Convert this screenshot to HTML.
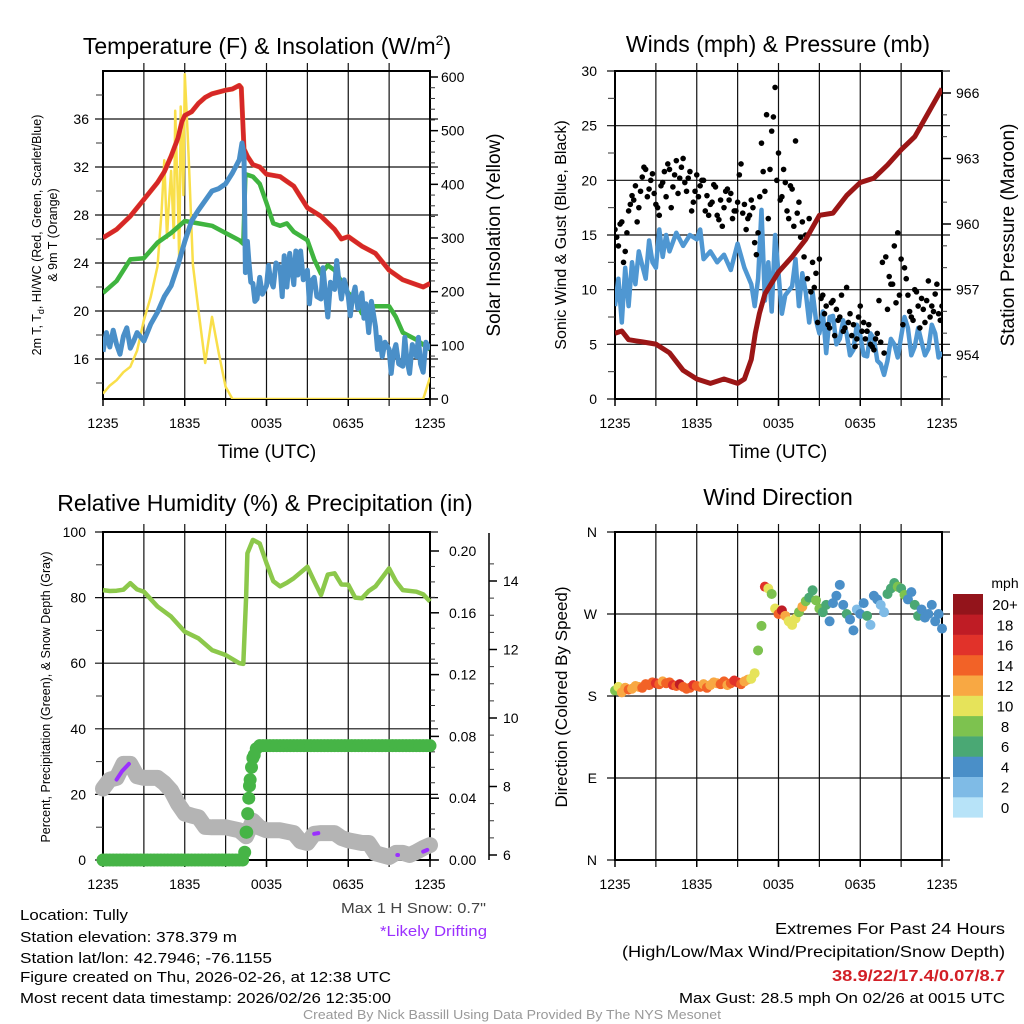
<!DOCTYPE html>
<html><head><meta charset="utf-8"><style>
html,body{margin:0;padding:0;background:#fff}
svg{display:block;font-family:"Liberation Sans",sans-serif}
</style></head><body>
<svg id="fig" width="1024" height="1024" viewBox="0 0 1024 1024" xmlns="http://www.w3.org/2000/svg">
<rect width="1024" height="1024" fill="#fff"/>
<g id="layer"></g>
<!-- titles -->
<text x="267" y="54" font-size="23" text-anchor="middle">Temperature (F) &amp; Insolation (W/m<tspan font-size="14" dy="-9">2</tspan><tspan dy="9">)</tspan></text>
<text x="778" y="52" font-size="23" text-anchor="middle">Winds (mph) &amp; Pressure (mb)</text>
<text x="265" y="511" font-size="23" text-anchor="middle">Relative Humidity (%) &amp; Precipitation (in)</text>
<text x="778" y="505" font-size="23" text-anchor="middle">Wind Direction</text>
<text x="267" y="458" font-size="19" text-anchor="middle">Time (UTC)</text>
<text x="778" y="458" font-size="19" text-anchor="middle">Time (UTC)</text>
<text transform="translate(41,235) rotate(-90)" font-size="12.5" text-anchor="middle">2m T, T<tspan font-size="9" dy="3">d</tspan><tspan dy="-3">, HI/WC (Red, Green, Scarlet/Blue)</tspan></text>
<text transform="translate(57,235) rotate(-90)" font-size="12.5" text-anchor="middle">&amp; 9m T (Orange)</text>
<text transform="translate(500,235) rotate(-90)" font-size="19" text-anchor="middle">Solar Insolation (Yellow)</text>
<text transform="translate(566,235) rotate(-90)" font-size="16" text-anchor="middle">Sonic Wind &amp; Gust (Blue, Black)</text>
<text transform="translate(1014,235) rotate(-90)" font-size="19" text-anchor="middle">Station Pressure (Maroon)</text>
<text transform="translate(50,697) rotate(-90)" font-size="12.5" text-anchor="middle">Percent, Precipitation (Green), &amp; Snow Depth (Gray)</text>
<text transform="translate(567,697) rotate(-90)" font-size="17" text-anchor="middle">Direction (Colored By Speed)</text>
<!-- footer -->
<g font-size="14.5" fill="#000">
<text x="20" y="920" textLength="108" lengthAdjust="spacingAndGlyphs">Location: Tully</text>
<text x="20" y="942" textLength="217" lengthAdjust="spacingAndGlyphs">Station elevation: 378.379 m</text>
<text x="20" y="963" textLength="252" lengthAdjust="spacingAndGlyphs">Station lat/lon: 42.7946; -76.1155</text>
<text x="20" y="982" textLength="371" lengthAdjust="spacingAndGlyphs">Figure created on Thu, 2026-02-26, at 12:38 UTC</text>
<text x="20" y="1003" textLength="371" lengthAdjust="spacingAndGlyphs">Most recent data timestamp: 2026/02/26 12:35:00</text>
<text x="341" y="913" fill="#444" textLength="145" lengthAdjust="spacingAndGlyphs">Max 1 H Snow: 0.7"</text>
<text x="380" y="936" fill="#9b30ff" textLength="107" lengthAdjust="spacingAndGlyphs">*Likely Drifting</text>
<text x="775" y="934" font-size="16" textLength="230" lengthAdjust="spacingAndGlyphs">Extremes For Past 24 Hours</text>
<text x="622" y="957" font-size="16" textLength="383" lengthAdjust="spacingAndGlyphs">(High/Low/Max Wind/Precipitation/Snow Depth)</text>
<text x="832" y="981" font-weight="bold" fill="#d21f26" font-size="16" textLength="173" lengthAdjust="spacingAndGlyphs">38.9/22/17.4/0.07/8.7</text>
<text x="679" y="1003" textLength="326" lengthAdjust="spacingAndGlyphs">Max Gust: 28.5 mph On 02/26 at 0015 UTC</text>
<text x="512" y="1019" text-anchor="middle" fill="#999" font-size="12.5" textLength="418" lengthAdjust="spacingAndGlyphs">Created By Nick Bassill Using Data Provided By The NYS Mesonet</text>
</g>
</svg>
<script>
// ---------- data ----------
const xTickLabels = ["1235","1835","0035","0635","1235"];
const tempTicks = [16,20,24,28,32,36];
const solarTicks = [0,100,200,300,400,500,600];
const windTicks = [0,5,10,15,20,25,30];
const presTicks = [954,957,960,963,966];
const rhTicks = [0,20,40,60,80,100];
const precipTicks = [0.00,0.04,0.08,0.12,0.16,0.20];
const snowTicks = [6,8,10,12,14];
const dirTicks = ["N","E","S","W","N"];
const speedBins = ["0","2","4","6","8","10","12","14","16","18","20+"];

const redHours = [0,1,2,3,4,4.5,5,5.5,5.8,6,6.5,7,7.5,8,9,9.5,10,10.15,10.35,10.6,11,11.5,12,13,13.5,14,14.5,15,16,17,17.5,18,19,20,20.5,21,22,23,23.5,24];
const redTemp = [26.1,26.8,27.9,29.3,30.7,31.6,32.9,34.4,35.8,36.3,36.6,37.3,37.8,38.1,38.4,38.5,38.8,38.6,33.5,32.9,32.2,32.0,31.4,31.2,30.8,30.4,29.5,28.6,27.9,26.8,26.0,26.2,25.4,24.8,24.1,23.4,22.6,22.2,22.0,22.3];
const greenHours = [0,1,2,3,4,5,6,7,8,9,10,10.3,10.45,11,11.5,12,12.5,13,13.5,14,15,15.5,16,16.5,17,18,18.5,19,19.5,20,21,21.5,22,23,24];
const greenTemp = [21.5,22.5,24.3,24.4,25.7,26.5,27.5,27.3,27.1,26.5,25.9,25.6,31.4,31.2,30.6,29.0,27.3,27.1,27.3,26.6,25.9,24.3,23.1,23.8,23.4,21.5,21.0,19.8,20.3,20.4,20.4,19.5,18.2,17.6,16.8];
const blueHours = [0,0.25,0.5,0.75,1,1.25,1.5,1.75,2,2.25,2.5,3,3.5,4,4.5,5,5.5,6,6.5,7,7.5,8,8.5,9,9.5,10,10.2,10.35,10.45,10.6,10.7,10.85,11,11.15,11.3,11.5,11.7,12,12.15,12.3,12.5,12.7,13,13.15,13.3,13.5,13.7,14,14.15,14.3,14.5,14.7,15,15.15,15.3,15.5,15.7,16,16.15,16.3,16.5,16.7,17,17.15,17.3,17.5,17.7,18,18.15,18.3,18.5,18.7,19,19.15,19.3,19.5,19.7,20,20.15,20.3,20.5,20.7,21,21.15,21.3,21.5,21.7,22,22.15,22.3,22.5,22.7,23,23.15,23.3,23.5,23.7,24];
const blueTemp = [16.6,18.2,17.0,18.4,17.2,16.4,17.9,18.6,16.9,17.5,18.2,17.5,18.9,19.9,21.2,22.1,23.8,25.8,27.5,28.4,29.2,30.0,30.2,30.6,31.5,32.6,34.0,33.0,23.2,25.8,24.2,22.4,22.3,20.8,21.0,22.8,21.4,22.1,23.8,22.6,22.0,24.0,23.6,21.2,24.6,22.0,24.8,22.2,25.0,23.0,25.0,22.6,23.4,20.6,22.5,22.8,21.2,21.0,23.6,21.8,19.5,22.4,21.8,24.2,22.6,21.0,22.6,21.2,19.6,21.0,22.0,20.2,21.5,19.4,20.6,18.2,20.8,18.7,16.8,17.8,16.2,17.4,16.8,14.8,16.4,17.2,15.6,15.4,17.8,16.0,14.8,17.2,16.2,17.8,15.6,14.9,17.4,16.8];
const solarHours = [0,0.5,1,1.5,2,2.5,3,3.5,4,4.3,4.5,4.7,4.8,5,5.2,5.3,5.5,5.6,5.7,5.9,6,6.2,6.3,6.6,7,7.5,8,8.5,9,9.5,23.5,24];
const solarVals = [10,25,35,50,60,90,147,190,247,350,445,300,350,425,300,537,370,250,545,380,605,500,445,250,166,67,153,85,23,0,0,40];

const windHours = [0,0.25,0.5,0.75,1,1.25,1.5,1.75,2,2.25,2.5,2.75,3,3.25,3.5,3.75,4,4.5,5,5.5,6,6.25,6.5,7,7.5,8,8.5,9,9.5,10,10.25,10.5,10.75,11,11.25,11.5,11.75,12,12.25,12.5,13,13.25,13.5,13.75,14,14.25,14.5,14.75,15,15.25,15.5,15.75,16,16.25,16.5,16.75,17,17.25,17.5,17.75,18,18.25,18.5,18.75,19,19.25,19.5,19.75,20,20.25,20.5,20.75,21,21.25,21.5,21.75,22,22.25,22.5,22.75,23,23.25,23.5,23.75,24];
const windVals = [8.5,11,7.0,12,8.5,12.5,10.5,13.5,12.2,11.0,14.5,12.5,12.0,15.5,13.0,15.0,13.5,15.2,14.0,15.0,14.6,15.5,12.8,13.5,12.5,13.2,11.8,14.2,12.0,10.5,8.5,11.0,17.3,9.0,12.5,8.0,15.0,11.5,7.8,9.5,10.3,12.8,8.5,11.5,9.7,7.0,9.8,7.2,6.0,8.0,4.2,7.5,7.6,5.0,5.5,7.2,6.0,4.0,4.5,6.8,5.8,4.0,3.9,6.0,5.5,3.5,3.2,2.2,3.5,5.5,5.0,3.8,5.7,7.5,6.5,4.0,4.8,6.5,5.2,4.0,4.6,6.8,6.0,3.8,4.3];
const gustA = [15.5,14.0,16.2,13.5,17.2,18.6,19.5,17.5,20.3,21.0,19.2,20.6,17.8,16.8,19.8,18.5,21.0,19.4,21.8,20.2,22.0,19.0,20.8,18.0,20.5,19.5,20.0,18.6,17.8,19.6,16.8,18.2,17.5,19.2,18.8,17.2,18.0,21.5,17.8,16.5,18.2,14.3,15.2,23.4,19.0,16.5,24.5,28.5,22.5,18.5,19.8,16.5,19.2,23.6,18.0,16.2,15.0,16.5,12.5,11.5,12.8,9.5,8.5,6.5,9.0,8.2,7.5,6.2,10.2,7.8,6.8,5.5,8.5,7.0,6.2,5.0,4.5,6.0,5.2,4.2,8.2,10.5,14.0,15.2,12.8,12.0,9.5,7.5,10.0,8.5,9.2,7.0,10.8,8.5,9.6,7.8,8.5];
const gustB = [14.8,16.0,12.5,15.2,17.8,18.2,16.2,19.0,21.2,18.5,20.0,18.8,17.5,19.5,20.8,21.5,17.5,20.5,18.8,21.2,19.8,20.2,17.2,19.0,18.5,20.0,17.2,16.8,18.0,19.4,16.4,15.8,19.0,18.2,16.5,17.2,20.5,17.0,15.5,16.8,17.5,13.2,18.5,20.8,26.0,21.0,25.8,20.0,18.2,21.0,17.2,19.5,15.8,17.0,14.8,13.0,11.0,9.8,10.2,7.0,9.2,7.8,6.8,8.8,5.8,7.2,9.5,6.5,7.0,5.8,4.8,7.5,6.2,5.5,6.8,4.8,5.5,9.0,12.5,13.0,11.2,10.5,8.8,9.5,6.8,11.0,8.0,7.2,9.8,6.5,8.2,9.0,7.5,8.0,10.5,7.2];
const presHours = [0,0.5,1,2,3,4,5,6,7,8,9,9.5,10,10.3,10.6,11,12,13,14,15,16,17,18,19,20,21,22,23,24];
const presVals = [955.0,955.1,954.7,954.6,954.5,954.1,953.3,952.9,952.7,952.9,952.7,952.9,953.8,955.0,955.9,956.8,957.8,958.5,959.3,960.4,960.5,961.3,961.9,962.1,962.7,963.4,964.0,965.1,966.2];

const rhHours = [0,0.5,1,1.5,2,2.5,3,4,5,6,7,8,9,10,10.3,10.5,10.6,11,11.5,12,12.5,13,13.5,14,15,15.5,16,16.5,17,17.5,18,18.5,19,19.5,20,21,21.5,22,23,23.5,24];
const rhVals = [82.3,82.0,82.1,82.4,84.4,82.5,81.8,77.3,74.2,69.6,67.6,64,62.5,60,59.8,80,93.5,97.6,96.5,90.5,85,83.4,84.5,85.9,89.4,85,80.8,87,87.4,84,83.9,80,79.8,82,83.4,88.9,85,82.3,81.8,81,78.8];
const precipVals = [0,0,0,0,0,0,0,0,0,0,0,0,0,0,0,0,0,0,0,0,0,0,0,0,0,0,0,0,0,0,0,0,0,0,0,0,0,0,0,0,0,0,0.018,0.048,0.066,0.072,0.074,0.074,0.074,0.074,0.074,0.074,0.074,0.074,0.074,0.074,0.074,0.074,0.074,0.074,0.074,0.074,0.074,0.074,0.074,0.074,0.074,0.074,0.074,0.074,0.074,0.074,0.074,0.074,0.074,0.074,0.074,0.074,0.074,0.074,0.074,0.074,0.074,0.074,0.074,0.074,0.074,0.074,0.074,0.074,0.074,0.074,0.074,0.074,0.074,0.074,0.074];
const precipRiseHours = [10.4,10.55,10.62,10.7,10.8,10.9,11.1];
const precipRiseVals = [0.005,0.018,0.030,0.040,0.052,0.060,0.068];
const snowHours = [0,0.5,1,1.5,2,2.5,3,4,4.5,5,5.5,6,6.5,7,7.5,8,9,10,10.5,11,11.5,12,13,14,14.5,15,15.5,16,17,17.5,18,19,19.5,20,21,21.5,22,22.5,23,23.5,24];
const snowVals = [7.94,8.2,8.25,8.66,8.66,8.3,8.25,8.25,8.1,7.88,7.5,7.21,7.15,7.1,6.82,6.81,6.81,6.72,6.55,7.0,6.8,6.72,6.72,6.64,6.4,6.35,6.62,6.64,6.64,6.5,6.43,6.35,6.35,6.05,5.94,6.06,6.06,6.0,6.09,6.2,6.29];
const driftHours = [[1.0,1.4,1.9],[15.5,15.8],[21.6,21.65],[23.5,23.8]];
const driftVals = [[8.2,8.45,8.66],[6.62,6.64],[6.0,6.0],[6.1,6.15]];

const dirVals = [186,190,184,189,187,188,191,190,189,193,192,195,194,193,196,194,195,192,191,193,190,188,189,192,191,190,193,189,192,195,194,193,196,192,194,197,195,193,196,198,199,205,230,257,300,298,292,276,270,274,268,262,258,265,272,278,284,288,296,285,276,272,280,262,282,290,302,280,270,264,252,275,270,282,268,258,290,286,280,272,292,298,304,300,298,291,286,294,280,268,275,266,270,280,262,270,254];
const dirSpeeds = [8,9,11,12,13,12,11,12,14,14,13,14,15,14,12,13,14,15,14,17,14,14,13,15,14,14,12,14,12,12,11,13,14,12,14,15,15,13,12,11,10,9,8,7,16,10,8,10,14,18,12,10,9,10,8,12,8,6,5,7,7,6,6,4,4,4,4,4,5,4,4,2,4,4,5,2,4,3,2,2,6,5,6,7,6,8,4,4,5,6,4,4,4,4,4,3,4];
const binColors = ["#b7e3f8","#7fbbe6","#4a8fc8","#4aa874","#7dc24f","#e6e35a","#f8a843","#f26227","#e1322a","#bf1c25","#93141b"];

// ---------- helpers ----------
const NS = "http://www.w3.org/2000/svg";
const layer = document.getElementById("layer");
function mk(tag, attrs, parent){ const e=document.createElementNS(NS,tag); for(const k in attrs) e.setAttribute(k,attrs[k]); (parent||layer).appendChild(e); return e; }
function lin(d0,d1,r0,r1){ return v => r0 + (v-d0)/(d1-d0)*(r1-r0); }
function pathFrom(xs, ys, fx, fy){ return xs.map((h,i)=>(i?"L":"M")+fx(h).toFixed(1)+","+fy(ys[i]).toFixed(1)).join(""); }

const P = {
  tl:{x0:103,x1:430,y0:71,y1:399},
  tr:{x0:615,x1:942,y0:71,y1:399},
  bl:{x0:103,x1:430,y0:532,y1:860},
  br:{x0:615,x1:942,y0:532,y1:860}
};
function drawFrame(p, name, hTicksY){
  const g = mk("g",{});
  
  
  for(let k=1;k<8;k++){ const x=p.x0+(p.x1-p.x0)*k/8; mk("line",{x1:x,x2:x,y1:p.y0-8,y2:p.y1+7,stroke:"#111","stroke-width":1.2},g); }
  hTicksY.forEach(y=>{ mk("line",{x1:p.x0-8,x2:p.x1+8,y1:y,y2:y,stroke:"#111","stroke-width":1.2},g); });
  const r = mk("rect",{x:p.x0,y:p.y0,width:p.x1-p.x0,height:p.y1-p.y0,fill:"none",stroke:"#000","stroke-width":2});
  
  
  xTickLabels.forEach((lab,i)=>{
    const x=p.x0+(p.x1-p.x0)*i/4;
    mk("line",{x1:x,x2:x,y1:p.y1,y2:p.y1+7,stroke:"#000","stroke-width":1.5});
    const t=mk("text",{x:x,y:p.y1+29,"font-size":14,"text-anchor":"middle"});
    t.textContent=lab;
    
    
  });
}
function label(x,y,txt,anchor,name,size){
  const t=mk("text",{x:x,y:y,"font-size":size||14,"text-anchor":anchor});
  t.textContent=txt;
  
  
  return t;
}
function minor(x,y,len){ mk("line",{x1:x,x2:x+len,y1:y,y2:y,stroke:"#333","stroke-width":1}); }
const hx = p => lin(0,24,p.x0,p.x1);

// ---------- panel 1: temperature ----------
(function(){
  const p=P.tl, fx=hx(p), fy=lin(16,36,359,119), fs=lin(0,600,399,77);
  drawFrame(p,"temp",tempTicks.map(fy));
  tempTicks.forEach(v=>label(89,fy(v)+5,String(v),"end","temp-y-tick-label"));
  for(let v=14; v<40; v+=2){ if(v%4) minor(p.x0-7,fy(v),7); }
  solarTicks.forEach(v=>{ mk("line",{x1:p.x1,x2:p.x1+8,y1:fs(v),y2:fs(v),stroke:"#000","stroke-width":1.5}); label(441,fs(v)+5,String(v),"start","solar-y-tick-label"); });
  for(let v=20; v<640; v+=20){ if(v%100 && fs(v)>p.y0) minor(p.x1,fs(v),5); }
  const clip = mk("clipPath",{id:"c1"}); mk("rect",{x:p.x0,y:p.y0-2,width:p.x1-p.x0,height:p.y1-p.y0+2},clip);
  const g = mk("g",{"clip-path":"url(#c1)"});
  let e;
  e=mk("path",{d:pathFrom(solarHours,solarVals,fx,fs),fill:"none",stroke:"#f9df4a","stroke-width":2.5,"stroke-linejoin":"round"},g);
  
  
  e=mk("path",{d:pathFrom(redHours,redTemp,fx,fy),fill:"none",stroke:"#f29a4a","stroke-width":5,"stroke-linejoin":"round"},g);
  
  
  e=mk("path",{d:pathFrom(redHours,redTemp,fx,fy),fill:"none",stroke:"#d62728","stroke-width":4.5,"stroke-linejoin":"round"},g);
  
  
  e=mk("path",{d:pathFrom(greenHours,greenTemp,fx,fy),fill:"none",stroke:"#3fb43f","stroke-width":4.5,"stroke-linejoin":"round"},g);
  
  
  e=mk("path",{d:pathFrom(blueHours,blueTemp,fx,fy),fill:"none",stroke:"#4a8fc8","stroke-width":5,"stroke-linejoin":"round"},g);
  
  
})();

// ---------- panel 2: winds ----------
(function(){
  const p=P.tr, fx=hx(p), fy=lin(0,30,399,71), fp=lin(954,966,355,93);
  drawFrame(p,"wind",windTicks.map(fy));
  windTicks.forEach(v=>label(597,fy(v)+5,String(v),"end","wind-y-tick-label"));
  for(let v=2.5; v<30; v+=5) minor(p.x0-7,fy(v),7);
  presTicks.forEach(v=>{ mk("line",{x1:p.x1,x2:p.x1+9,y1:fp(v),y2:fp(v),stroke:"#000","stroke-width":1.5}); label(956,fp(v)+5,String(v),"start","pressure-y-tick-label"); });
  for(let v=953; v<968; v++){ if((v-954)%3 && fp(v)>p.y0 && fp(v)<p.y1) minor(p.x1,fp(v),5); }
  const clip = mk("clipPath",{id:"c2"}); mk("rect",{x:p.x0,y:p.y0,width:p.x1-p.x0,height:p.y1-p.y0},clip);
  const g = mk("g",{"clip-path":"url(#c2)"});
  let e=mk("path",{d:pathFrom(windHours,windVals,fx,fy),fill:"none",stroke:"#4f97d2","stroke-width":4.5,"stroke-linejoin":"round"},g);
  
  
  gustA.forEach((v,i)=>{
    const c=mk("circle",{cx:fx(i*0.25),cy:fy(v),r:2.8,fill:"#000"},g);
    
    
  });
  gustB.forEach((v,i)=>{
    const c=mk("circle",{cx:fx(0.125+i*0.25),cy:fy(v),r:2.8,fill:"#000"},g);
    
    
  });
  e=mk("path",{d:pathFrom(presHours,presVals,fx,fp),fill:"none",stroke:"#9b1616","stroke-width":5,"stroke-linejoin":"round"},g);
  
  
})();

// ---------- panel 3: RH / precip / snow ----------
(function(){
  const p=P.bl, fx=hx(p), fy=lin(0,100,860,532), fq=lin(0,0.2,860,551), fsn=lin(6,14,855,581);
  drawFrame(p,"rh",rhTicks.map(fy));
  rhTicks.forEach(v=>label(86,fy(v)+5,String(v),"end","rh-y-tick-label"));
  for(let v=10; v<100; v+=20) minor(p.x0-7,fy(v),7);
  precipTicks.forEach(v=>{ mk("line",{x1:p.x1,x2:p.x1+9,y1:fq(v),y2:fq(v),stroke:"#000","stroke-width":1.5}); label(449,fq(v)+5,v.toFixed(2),"start","precip-y-tick-label"); });
  for(let v=0.01; v<0.21; v+=0.01){ const r=Math.round(v*100); if(r%4) minor(p.x1,fq(r/100),5); }
  mk("line",{x1:489,x2:489,y1:533,y2:860,stroke:"#000","stroke-width":1.5});
  snowTicks.forEach(v=>{ mk("line",{x1:489,x2:497,y1:fsn(v),y2:fsn(v),stroke:"#000","stroke-width":1.5}); label(503,fsn(v)+5,String(v),"start","snow-y-tick-label"); });
  for(let v=6.5; v<15; v+=0.5){ if(v%2 && fsn(v)>533) minor(489,fsn(v),5); }
  let e=mk("path",{d:pathFrom(rhHours,rhVals,fx,fy),fill:"none",stroke:"#8cc84b","stroke-width":4.5,"stroke-linejoin":"round"});
  
  
  e=mk("path",{d:pathFrom(snowHours,snowVals,fx,fsn),fill:"none",stroke:"#b4b4b4","stroke-width":16,"stroke-linejoin":"round","stroke-linecap":"round"});
  
  
  driftHours.forEach((hs,k)=>{
    const d=mk("path",{d:pathFrom(hs,driftVals[k],fx,fsn),fill:"none",stroke:"#9b30ff","stroke-width":4,"stroke-linecap":"round"});
    
    
  });
  precipVals.forEach((v,i)=>{
    const c=mk("circle",{cx:fx(i*0.25),cy:fq(v),r:6.5,fill:"#46b446"});
    
    
  });
  precipRiseHours.forEach((h,i)=>{
    const c=mk("circle",{cx:fx(h),cy:fq(precipRiseVals[i]),r:6.5,fill:"#46b446"});
    
    
  });
})();

// ---------- panel 4: wind direction ----------
(function(){
  const p=P.br, fx=hx(p), fd=lin(0,360,860,532);
  drawFrame(p,"direction",[0,90,180,270,360].map(fd));
  dirTicks.forEach((lab,i)=>label(597,fd(i*90)+5,lab,"end","direction-y-tick-label"));
  dirVals.forEach((v,i)=>{
    const b=Math.min(10,Math.round(dirSpeeds[i]/2));
    const c=mk("circle",{cx:fx(i*0.25),cy:fd(v),r:5,fill:binColors[b]});
    
    
  });
  label(1005,588,"mph","middle","colorbar-unit-label",14);
  speedBins.forEach((lab,i)=>{
    const y=594+(10-i)*20.3;
    const r=mk("rect",{x:953,y:y,width:30,height:20.6,fill:binColors[i]});
    
    
    label(1005,y+16,lab,"middle","colorbar-label",15);
  });
})();
</script>
</body></html>
